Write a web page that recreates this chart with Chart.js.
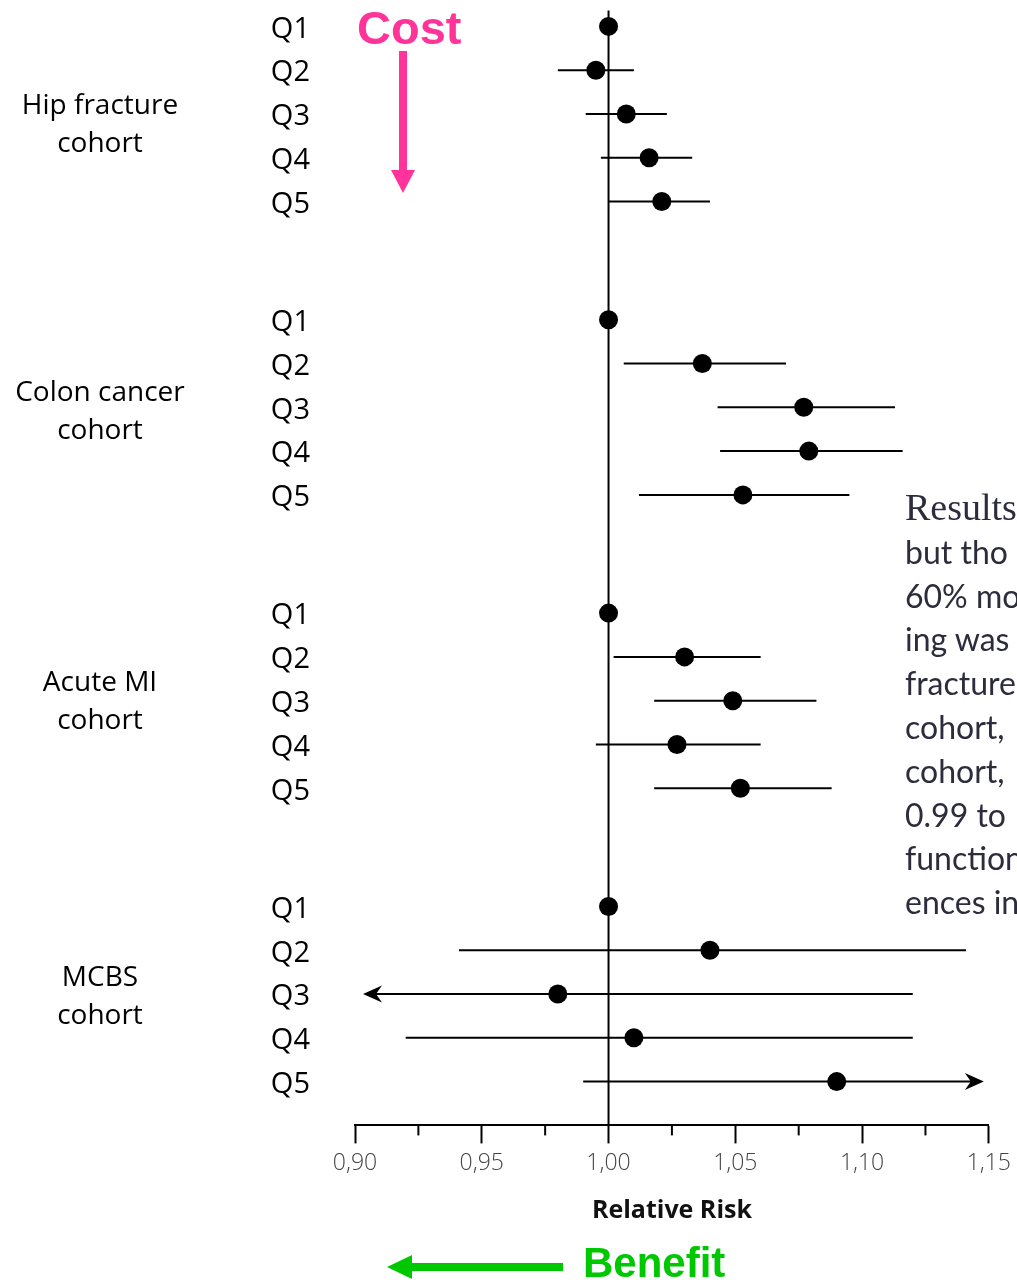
<!DOCTYPE html>
<html>
<head>
<meta charset="utf-8">
<script src="https://cdn.jsdelivr.net/npm/chart.js@4/dist/chart.umd.min.js"></script>
<style>
  html, body { margin: 0; padding: 0; background: #fff; }
  body { width: 1017px; height: 1283px; position: relative; overflow: hidden; }
  #wrap { position: absolute; left: 0; top: -44px; width: 1017px; height: 1325px; }
  .grp { position: absolute; left: 0; width: 200px; text-align: center; font-family: "Open Sans", Lato, sans-serif;
         font-size: 28px; line-height: 38px; color: #000; white-space: nowrap; }
  #cost { position: absolute; left: 357px; top: 4px; font-family: "Liberation Sans", Arial, sans-serif; font-weight: bold;
          font-size: 47px; line-height: 1; color: #ff3399; }
  #benefit { position: absolute; left: 583px; top: 1242px; font-family: "Liberation Sans", Arial, sans-serif; font-weight: bold;
          font-size: 42px; line-height: 1; color: #00c800; }
  #side { position: absolute; left: 905px; top: 486px; font-family: Lato, "Open Sans", sans-serif; font-size: 32px;
          line-height: 43.8px; color: #2c2c3c; white-space: nowrap; }
  #side .serif { font-family: "Liberation Serif", "DejaVu Serif", serif; font-size: 38px; }
  svg { position: absolute; left: 0; top: 0; }
</style>
</head>
<body>
<div id="wrap"><canvas id="c"></canvas></div>

<div class="grp" style="top:84px">Hip fracture<br>cohort</div>
<div class="grp" style="top:371px">Colon cancer<br>cohort</div>
<div class="grp" style="top:661px">Acute MI<br>cohort</div>
<div class="grp" style="top:956px">MCBS<br>cohort</div>

<div id="cost">Cost</div>
<div id="benefit">Benefit</div>
<svg width="1017" height="1283">
  <rect x="399" y="51" width="8" height="122" fill="#ff3399"/>
  <polygon points="391,170 415,170 403,193" fill="#ff3399"/>
  <rect x="409" y="1263" width="154" height="8" fill="#00c800"/>
  <polygon points="387,1267 412,1255 412,1279" fill="#00c800"/>
</svg>

<div id="side">
  <div class="serif">Results</div>
  <div>but tho</div>
  <div>60% mo</div>
  <div>ing was</div>
  <div>fracture</div>
  <div>cohort,</div>
  <div>cohort,</div>
  <div>0.99 to</div>
  <div>function</div>
  <div>ences in</div>
</div>

<script>
// ---------------- DATA ----------------
const groups = ['Hip fracture cohort', 'Colon cancer cohort', 'Acute MI cohort', 'MCBS cohort'];
const quintiles = ['Q1', 'Q2', 'Q3', 'Q4', 'Q5'];

const hipRR = [1.000, 0.995, 1.007, 1.016, 1.021];
const hipLo = [null, 0.980, 0.991, 0.997, 1.000];
const hipHi = [null, 1.010, 1.023, 1.033, 1.040];

const colonRR = [1.000, 1.037, 1.077, 1.079, 1.053];
const colonLo = [null, 1.006, 1.043, 1.044, 1.012];
const colonHi = [null, 1.070, 1.113, 1.116, 1.095];

const miRR = [1.000, 1.030, 1.049, 1.027, 1.052];
const miLo = [null, 1.002, 1.018, 0.995, 1.018];
const miHi = [null, 1.060, 1.082, 1.060, 1.088];

// values beyond the axis range are drawn as arrows
const mcbsRR = [1.000, 1.040, 0.980, 1.010, 1.090];
const mcbsLo = [null, 0.941, 0.870, 0.920, 0.990];
const mcbsHi = [null, 1.141, 1.120, 1.120, 1.190];

const xTickValues = [0.90, 0.95, 1.00, 1.05, 1.10, 1.15];
const refValue = 1.00;
const xTitle = 'Relative Risk';

// ---------------- BUILD ----------------
const cohorts = [
  { rr: hipRR, lo: hipLo, hi: hipHi },
  { rr: colonRR, lo: colonLo, hi: colonHi },
  { rr: miRR, lo: miLo, hi: miHi },
  { rr: mcbsRR, lo: mcbsLo, hi: mcbsHi }
];
const GROUP_STEP = 6.7; // 5 rows + gap
const rowPos = (g, i) => g * GROUP_STEP + i;

const points = [];
const rowTicks = [];
const rowLabels = [];
cohorts.forEach((c, g) => {
  c.rr.forEach((v, i) => {
    points.push({ x: v, y: rowPos(g, i) });
    rowTicks.push(rowPos(g, i));
    rowLabels.push(quintiles[i]);
  });
});

function arrowHead(ctx, tipX, y, dir) {
  ctx.beginPath();
  ctx.moveTo(tipX, y);
  ctx.lineTo(tipX - dir * 19, y - 8.5);
  ctx.lineTo(tipX - dir * 13, y);
  ctx.lineTo(tipX - dir * 19, y + 8.5);
  ctx.closePath();
  ctx.fill();
}

const forestPlugin = {
  id: 'forest',
  beforeDatasetsDraw(chart) {
    const { ctx, chartArea: a, scales: { x, y } } = chart;
    ctx.save();
    ctx.strokeStyle = '#000';
    ctx.fillStyle = '#000';
    ctx.lineWidth = 2;
    const rx = x.getPixelForValue(refValue);
    ctx.beginPath();
    ctx.moveTo(rx, a.top);
    ctx.lineTo(rx, a.bottom);
    ctx.stroke();
    const t = x.ticks;
    for (let k = 0; k < t.length - 1; k++) {
      const px = x.getPixelForValue((t[k].value + t[k + 1].value) / 2);
      ctx.beginPath();
      ctx.moveTo(px, a.bottom);
      ctx.lineTo(px, a.bottom + 10);
      ctx.stroke();
    }
    cohorts.forEach((c, g) => {
      c.lo.forEach((lo, i) => {
        const hi = c.hi[i];
        if (lo == null || hi == null) return;
        const yy = y.getPixelForValue(rowPos(g, i));
        let x1 = x.getPixelForValue(lo);
        let x2 = x.getPixelForValue(hi);
        const leftArrow = lo < x.min;
        const rightArrow = hi > x.max;
        if (leftArrow) x1 = a.left + 8;
        if (rightArrow) x2 = a.right - 5;
        ctx.beginPath();
        ctx.moveTo(leftArrow ? x1 + 10 : x1, yy);
        ctx.lineTo(rightArrow ? x2 - 10 : x2, yy);
        ctx.stroke();
        if (leftArrow) arrowHead(ctx, x1, yy, -1);
        if (rightArrow) arrowHead(ctx, x2, yy, 1);
      });
    });
    ctx.restore();
  }
};

new Chart(document.getElementById('c'), {
  type: 'scatter',
  data: {
    datasets: [{
      data: points,
      pointRadius: 9.5,
      pointHoverRadius: 9.5,
      pointBackgroundColor: '#000',
      pointBorderColor: '#000',
      pointBorderWidth: 0,
      showLine: false,
      clip: false
    }]
  },
  options: {
    responsive: true,
    maintainAspectRatio: false,
    animation: false,
    layout: { padding: { left: 0, right: 26, top: 10, bottom: 55 } },
    plugins: { legend: { display: false }, tooltip: { enabled: false } },
    scales: {
      x: {
        type: 'linear',
        min: xTickValues[0],
        max: xTickValues[xTickValues.length - 1],
        afterBuildTicks: s => { s.ticks = xTickValues.map(v => ({ value: v })); },
        ticks: {
          callback: v => Number(v).toFixed(2).replace('.', ','),
          color: '#444',
          font: { family: '"Open Sans", Lato, sans-serif', size: 23, weight: '300' },
          padding: 6,
          maxRotation: 0,
          autoSkip: false
        },
        grid: { drawOnChartArea: false, tickLength: 18, tickWidth: 2, tickColor: '#000' },
        border: { display: true, color: '#000', width: 2 },
        title: {
          display: true,
          text: xTitle,
          color: '#111',
          font: { family: '"Open Sans", Lato, sans-serif', size: 25, weight: 'bold' },
          padding: { top: 13, bottom: 0 }
        }
      },
      y: {
        type: 'linear',
        reverse: true,
        min: -0.365,
        max: 25.1,
        afterBuildTicks: s => { s.ticks = rowTicks.map(v => ({ value: v })); },
        afterFit: s => { s.width = 355; },
        ticks: {
          callback: (v, idx) => rowLabels[idx],
          color: '#000',
          font: { family: '"Open Sans", Lato, sans-serif', size: 29 },
          padding: 37,
          labelOffset: 3,
          autoSkip: false
        },
        grid: { display: false },
        border: { display: false }
      }
    }
  },
  plugins: [forestPlugin]
});
</script>
</body>
</html>
